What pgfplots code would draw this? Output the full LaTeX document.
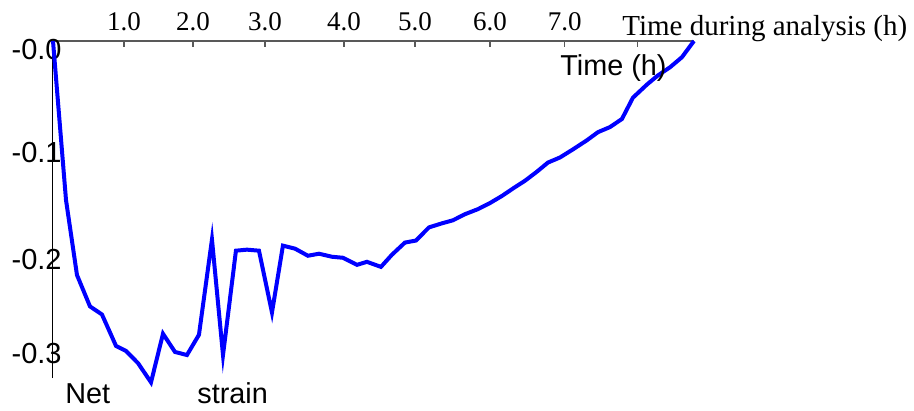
\documentclass[border=0pt]{standalone}
\usepackage{fontspec}
\setmainfont{Liberation Serif}
\setsansfont{Liberation Sans}
\usepackage{pgfplots}
\pgfplotsset{compat=1.18}
\begin{document}
\begin{tikzpicture}
\useasboundingbox (-26.5pt,20.5pt) rectangle (430.5pt,-185pt);
\begin{axis}[
  at={(0,0)}, anchor=north west, scale only axis,
  width=320.5pt, height=168.5pt,
  xmin=0, xmax=8.77, ymin=-0.3327, ymax=0,
  axis x line=top, axis y line=left,
  x axis line style={-, draw=black!65, line width=0.6pt},
  y axis line style={-, draw=black, line width=0.5pt},
  xtick={0.971,1.915,2.900,3.981,4.952,5.978,7.0,8.0},
  xticklabels={1.0,2.0,3.0,4.0,5.0,6.0,7.0,{}},
  tick align=inside,
  major tick length=3pt,
  x tick style={draw=black!65, line width=0.6pt},
  ytick={0,-0.1017,-0.2073,-0.3},
  yticklabels={-0.0,-0.1,-0.2,-0.3},
  y tick style={draw=none},
  xticklabel style={font=\fontsize{13.5}{15}\selectfont, anchor=base, inner sep=0pt, yshift=5pt},
  yticklabel style={font=\sffamily\fontsize{14.5}{16}\selectfont, anchor=east, inner sep=0pt, xshift=4.5pt, yshift=-4.5pt},
  clip=false,
]
\addplot[draw={rgb,255:red,0;green,0;blue,255}, line width=2pt, mark=none] coordinates {
(0,0) (0.178,-0.157) (0.328,-0.231) (0.506,-0.262) (0.670,-0.270)
(0.862,-0.301) (0.999,-0.306) (1.163,-0.318) (1.341,-0.337) (1.505,-0.289)
(1.669,-0.307) (1.833,-0.310) (1.997,-0.290) (2.175,-0.196) (2.326,-0.310)
(2.503,-0.207) (2.654,-0.206) (2.818,-0.207) (2.996,-0.268) (3.146,-0.202)
(3.311,-0.205) (3.488,-0.212) (3.639,-0.210) (3.817,-0.213) (3.967,-0.214)
(4.159,-0.221) (4.295,-0.218) (4.487,-0.223) (4.637,-0.211) (4.815,-0.199)
(4.966,-0.197) (5.144,-0.184) (5.322,-0.180) (5.472,-0.177) (5.636,-0.171)
(5.814,-0.166) (5.978,-0.160) (6.142,-0.153) (6.306,-0.145) (6.457,-0.138)
(6.621,-0.129) (6.772,-0.120) (6.936,-0.115) (7.114,-0.107) (7.305,-0.098)
(7.456,-0.090) (7.620,-0.085) (7.784,-0.077) (7.934,-0.056) (8.126,-0.043)
(8.276,-0.034) (8.441,-0.026) (8.605,-0.016) (8.769,0)
};
\end{axis}
\node[anchor=base west, inner sep=0pt, font=\fontsize{14.5}{17}\selectfont] at (284.5pt,2.5pt) {Time during analysis (h)};
\node[anchor=base west, inner sep=0pt, font=\sffamily\fontsize{14.4}{17}\selectfont] at (253.5pt,-17.5pt) {Time (h)};
\node[anchor=base west, inner sep=0pt, font=\sffamily\fontsize{14.4}{17}\selectfont] at (6pt,-181pt) {Net};
\node[anchor=base west, inner sep=0pt, font=\sffamily\fontsize{14.4}{17}\selectfont] at (72pt,-181pt) {strain};
\end{tikzpicture}
\end{document}
